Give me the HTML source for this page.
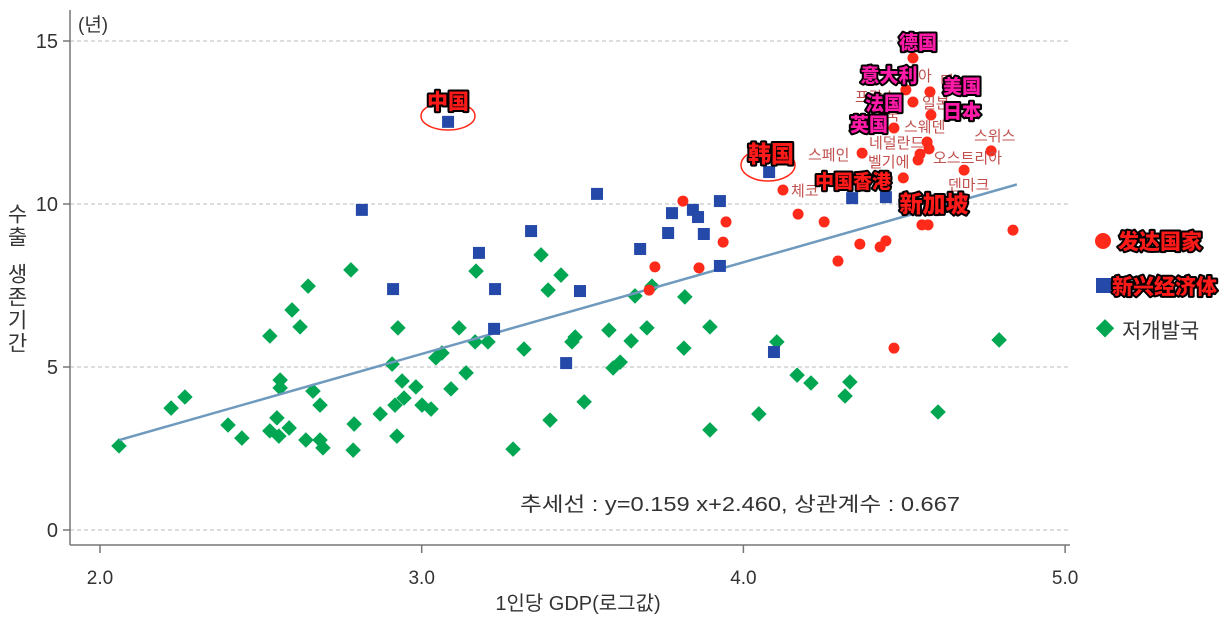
<!DOCTYPE html>
<html><head><meta charset="utf-8">
<style>
html,body{margin:0;padding:0;background:#fff;}
body{width:1232px;height:618px;overflow:hidden;font-family:"Liberation Sans","Noto Sans CJK KR",sans-serif;}
svg text{font-family:"Liberation Sans","Noto Sans CJK KR",sans-serif;}
.cn{font-family:"Liberation Sans","Noto Sans CJK SC",sans-serif;font-weight:900;paint-order:stroke;stroke:#000;stroke-width:4px;stroke-linejoin:round;}
.kr{fill:#c0504d;font-size:15px;}
</style></head>
<body>
<svg id="chart" width="1232" height="618" viewBox="0 0 1232 618" xmlns="http://www.w3.org/2000/svg">
<g id="grid"></g>
<g id="axes"></g>
<line x1="70" y1="10" x2="70" y2="545" stroke="#777" stroke-width="1.5"/>
<line x1="70" y1="545" x2="1070" y2="545" stroke="#777" stroke-width="1.5"/>
<text x="78" y="31" font-size="19" fill="#333">(년)</text>
<text x="578" y="610" font-size="20" fill="#333" text-anchor="middle">1인당 GDP(로그값)</text>
<g>
<text x="16" y="203" font-size="21" fill="#333" style="writing-mode:vertical-rl;text-orientation:upright;letter-spacing:2px">수출</text>
<text x="16" y="263" font-size="21" fill="#333" style="writing-mode:vertical-rl;text-orientation:upright;letter-spacing:2px">생존기간</text>
</g>
<text x="520" y="511" font-size="20" fill="#333" textLength="440" lengthAdjust="spacingAndGlyphs">추세선 :  y=0.159 x+2.460, 상관계수 : 0.667</text>
<g id="marks"></g>
<g id="labels">
<text class="kr" x="918" y="81">아</text>
<text class="kr" x="855" y="102">프랑스</text>
<text class="kr" x="940" y="86">미</text>
<text class="kr" x="922" y="108">일본</text>
<text class="kr" x="872" y="120">영국</text>
<text class="kr" x="904" y="132">스웨덴</text>
<text class="kr" x="869" y="148">네덜란드</text>
<text class="kr" x="808" y="160">스페인</text>
<text class="kr" x="868" y="167">벨기에</text>
<text class="kr" x="933" y="163">오스트리아</text>
<text class="kr" x="974" y="141">스위스</text>
<text class="kr" x="948" y="190">덴마크</text>
<text class="kr" x="791" y="196">체코</text>
<ellipse cx="448" cy="116" rx="27" ry="14" fill="none" stroke="#ff2a1a" stroke-width="1.5"/>
<ellipse cx="768" cy="165" rx="27" ry="16" fill="none" stroke="#ff2a1a" stroke-width="1.5"/>
<text class="cn" x="918" y="49" font-size="19" fill="#ff1aa8" text-anchor="middle">德国</text>
<text class="cn" x="889" y="82" font-size="19" fill="#ff1aa8" text-anchor="middle">意大利</text>
<text class="cn" x="962" y="93" font-size="19" fill="#ff1aa8" text-anchor="middle">美国</text>
<text class="cn" x="884" y="110" font-size="19" fill="#ff1aa8" text-anchor="middle">法国</text>
<text class="cn" x="962" y="118" font-size="19" fill="#ff1aa8" text-anchor="middle">日本</text>
<text class="cn" x="869" y="131" font-size="19" fill="#ff1aa8" text-anchor="middle">英国</text>
<text class="cn" x="448" y="109" font-size="21" fill="#ff1a1a" text-anchor="middle">中国</text>
<text class="cn" x="771" y="162" font-size="23" fill="#ff1a1a" text-anchor="middle">韩国</text>
<text class="cn" x="853" y="188" font-size="19" fill="#ff1a1a" text-anchor="middle">中国香港</text>
<text class="cn" x="934" y="212" font-size="23" fill="#ff1a1a" text-anchor="middle">新加坡</text>
</g>
<g>
<circle cx="1103" cy="241" r="8" fill="#ff2a1a"/>
<text class="cn" x="1118" y="249" font-size="21" fill="#ff1a1a">发达国家</text>
<rect x="1096" y="278" width="15" height="15" fill="#2449a8"/>
<text class="cn" x="1112" y="294" font-size="21" fill="#ff1a1a">新兴经济体</text>
<rect x="1098" y="322" width="13" height="13" fill="#00a651" transform="rotate(45 1105 329)"/>
<text x="1122" y="338" font-size="21" fill="#333">저개발국</text>
</g>
</svg>
<script>
const xTicks=[2.0,3.0,4.0,5.0];
const xTickLabels=["2.0","3.0","4.0","5.0"];
const yTicks=[0,5,10,15];
const yTickLabels=["0","5","10","15"];
const devX=[3.725,3.707,3.812,3.946,3.937,3.862,4.123,4.170,4.251,4.294,4.362,4.425,4.443,4.468,4.838,4.527,4.505,4.580,4.527,4.583,4.468,4.571,4.577,4.549,4.543,4.369,4.686,4.770,4.497,4.555,4.574];
const devY=[8.07,7.36,10.09,9.45,8.83,8.04,10.43,9.69,9.45,8.25,8.77,8.68,8.87,5.58,9.20,14.48,13.50,13.44,13.13,12.73,12.33,11.90,11.69,11.53,11.35,11.56,11.04,11.63,10.80,9.36,9.36];
const emgX=[3.082,2.814,2.911,3.178,3.228,3.225,3.340,3.449,3.492,3.545,3.679,3.766,3.778,3.843,3.859,3.877,3.927,3.927,4.095,4.080,4.338,4.443];
const emgY=[12.52,9.82,7.39,8.50,7.39,6.17,9.17,5.12,7.33,10.31,8.62,9.11,9.72,9.82,9.60,9.08,10.09,8.10,5.46,10.98,10.18,10.21];
const ldcX=[2.059,2.221,2.264,2.398,2.441,2.528,2.528,2.550,2.560,2.560,2.556,2.588,2.597,2.622,2.647,2.662,2.640,2.684,2.684,2.693,2.780,2.790,2.787,2.871,2.908,2.926,2.917,2.923,2.939,2.945,2.982,3.001,3.029,3.044,3.063,3.091,3.116,3.138,3.166,3.169,3.206,3.284,3.318,3.371,3.393,3.399,3.433,3.467,3.477,3.505,3.582,3.595,3.617,3.651,3.663,3.700,3.716,3.818,3.815,3.896,3.896,4.048,4.104,4.167,4.210,4.316,4.331,4.605,4.795];
const ldcY=[2.58,3.74,4.08,3.22,2.82,5.95,3.04,3.44,4.60,4.36,2.88,3.13,6.75,6.23,7.48,4.26,2.76,3.83,2.76,2.52,7.98,3.25,2.45,3.56,5.09,6.20,3.83,2.88,4.57,4.05,4.39,3.83,3.71,5.28,5.43,4.33,6.20,4.82,5.77,7.94,5.77,2.48,5.55,8.44,7.36,3.37,7.82,5.77,5.92,3.93,6.13,4.97,5.15,5.80,7.18,6.20,7.48,7.15,5.58,6.23,3.07,3.56,5.77,4.75,4.51,4.11,4.54,3.62,5.83];
const trendX=[2.06,4.85];
const trendY=[2.76,10.6];

const NS="http://www.w3.org/2000/svg";
function sx(v){return 100+(v-2)*321.7;}
function sy(v){return 530-v*32.6;}
function mk(tag,attrs,parent){const e=document.createElementNS(NS,tag);for(const k in attrs)e.setAttribute(k,attrs[k]);parent.appendChild(e);return e;}
const grid=document.getElementById('grid'),axes=document.getElementById('axes'),marks=document.getElementById('marks');
yTicks.forEach((t,i)=>{
  const g=mk('line',{x1:70,x2:1070,y1:sy(t),y2:sy(t),stroke:'#bbb','stroke-dasharray':'4,3','stroke-width':1},grid);
  
  
  const tk=mk('line',{x1:63,x2:70,y1:sy(t),y2:sy(t),stroke:'#777','stroke-width':1.5},axes);
  
  
  const tx=mk('text',{x:58,y:sy(t)+7,'text-anchor':'end','font-size':20,fill:'#333'},axes);
  tx.textContent=yTickLabels[i];
  
  
});
xTicks.forEach((t,i)=>{
  const tk=mk('line',{x1:sx(t),x2:sx(t),y1:545,y2:553,stroke:'#777','stroke-width':1.5},axes);
  
  
  const tx=mk('text',{x:sx(t),y:584,'text-anchor':'middle','font-size':19,fill:'#333'},axes);
  tx.textContent=xTickLabels[i];
  
  
});
ldcX.forEach((x,i)=>{
  const cx=sx(x),cy=sy(ldcY[i]);
  const e=mk('rect',{x:cx-5.5,y:cy-5.5,width:11,height:11,fill:'#00a651',transform:`rotate(45 ${cx} ${cy})`},marks);
  
  
});
const tl=mk('line',{x1:sx(trendX[0]),y1:sy(trendY[0]),x2:sx(trendX[1]),y2:sy(trendY[1]),stroke:'#6f9abd','stroke-width':2.5},marks);


emgX.forEach((x,i)=>{
  const e=mk('rect',{x:sx(x)-6,y:sy(emgY[i])-6,width:12,height:12,fill:'#2449a8'},marks);
  
  
});
devX.forEach((x,i)=>{
  const e=mk('circle',{cx:sx(x),cy:sy(devY[i]),r:5.5,fill:'#ff2a1a'},marks);
  
  
});
</script>
</body></html>
